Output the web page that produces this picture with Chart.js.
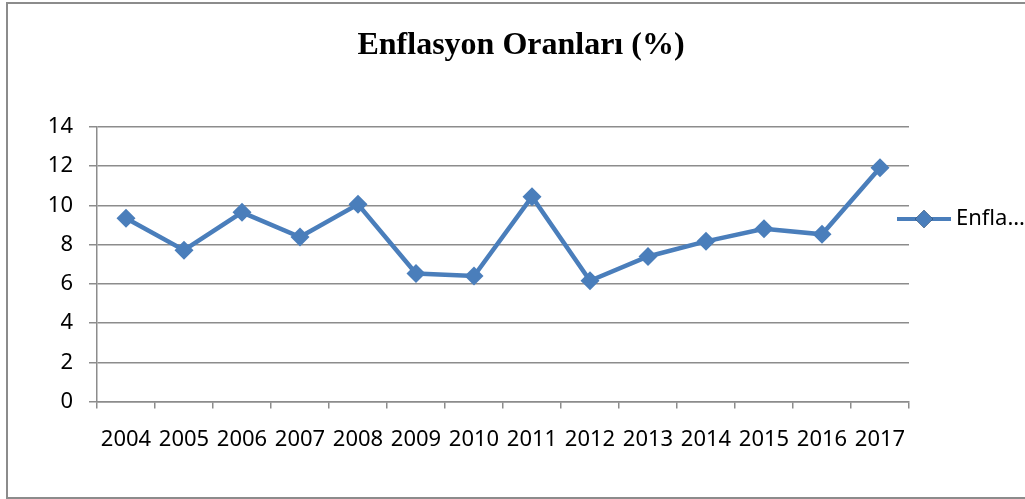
<!DOCTYPE html>
<html>
<head>
<meta charset="utf-8">
<script src="https://cdn.jsdelivr.net/npm/chart.js@4.4.0/dist/chart.umd.min.js"></script>
<style>
  html, body { margin: 0; padding: 0; background: #fff; overflow: hidden; }
  #kutu { position: absolute; left: 6px; top: 2px; width: 1040px; height: 493px; border: 2px solid #8c8c8c; }
  #alan { position: absolute; left: 0; top: 0; width: 1025px; height: 499px; }
</style>
</head>
<body>
<div id="kutu"></div>
<div id="alan"><canvas id="grafik" width="1025" height="499"></canvas></div>
<script>
// Veriler
const yillar = ["2004", "2005", "2006", "2007", "2008", "2009", "2010", "2011", "2012", "2013", "2014", "2015", "2016", "2017"];
const enflasyon = [9.35, 7.72, 9.65, 8.39, 10.06, 6.53, 6.40, 10.45, 6.16, 7.40, 8.17, 8.81, 8.53, 11.92];
const baslik = "Enflasyon Oranları (%)";
const seriAdi = "Enflasyon Oranları";
const legendYazi = "Enfla…";

const mavi = "#4a7ebb";
const gri = "#8c8c8c";

// Başlık ve sağdaki lejant (çizgi + elmas işaret)
const lejantPlugin = {
  id: "lejant",
  afterDraw(chart) {
    const ctx = chart.ctx;
    ctx.save();
    ctx.fillStyle = "#000";
    ctx.font = 'bold 32px "Liberation Serif", "Times New Roman", serif';
    ctx.textAlign = "center";
    ctx.textBaseline = "middle";
    ctx.fillText(baslik, 521, 46);

    const y = 219;
    ctx.strokeStyle = mavi;
    ctx.lineWidth = 4;
    ctx.beginPath();
    ctx.moveTo(897, y);
    ctx.lineTo(951, y);
    ctx.stroke();
    Chart.helpers.drawPoint(ctx, { pointStyle: "rectRot", radius: 9, borderWidth: 0 }, 924, y);
    ctx.fillStyle = mavi;
    ctx.fill();
    ctx.fillStyle = "#000";
    ctx.font = '22px "Noto Sans"';
    ctx.textAlign = "left";
    ctx.fillText(legendYazi, 956, y);
    ctx.restore();
  }
};

new Chart(document.getElementById("grafik"), {
  type: "line",
  data: {
    labels: yillar,
    datasets: [{
      label: seriAdi,
      data: enflasyon,
      borderColor: mavi,
      backgroundColor: mavi,
      borderWidth: 4.5,
      tension: 0,
      pointStyle: "rectRot",
      pointRadius: 9.5,
      pointBorderWidth: 0,
      pointBackgroundColor: mavi
    }]
  },
  options: {
    responsive: false,
    animation: false,
    layout: { padding: { left: 0, right: 116, top: 127, bottom: 28 } },
    plugins: {
      legend: { display: false },
      tooltip: { enabled: false },
      title: { display: false }
    },
    scales: {
      x: {
        offset: true,
        grid: { offset: true, drawOnChartArea: false, drawTicks: true, tickLength: 7, color: gri, lineWidth: 1.5 },
        border: { color: gri, width: 1.5 },
        ticks: { color: "#000", font: { family: '"Noto Sans"', size: 22 }, padding: 18, autoSkip: false, maxRotation: 0 }
      },
      y: {
        min: 0,
        max: 14,
        afterFit(scale) { scale.width = 97; },
        grid: { color: gri, lineWidth: 1.5, tickLength: 8 },
        border: { color: gri, width: 1.5 },
        ticks: { stepSize: 2, color: "#000", font: { family: '"Noto Sans"', size: 22 }, padding: 16 }
      }
    }
  },
  plugins: [lejantPlugin]
});
</script>
</body>
</html>
